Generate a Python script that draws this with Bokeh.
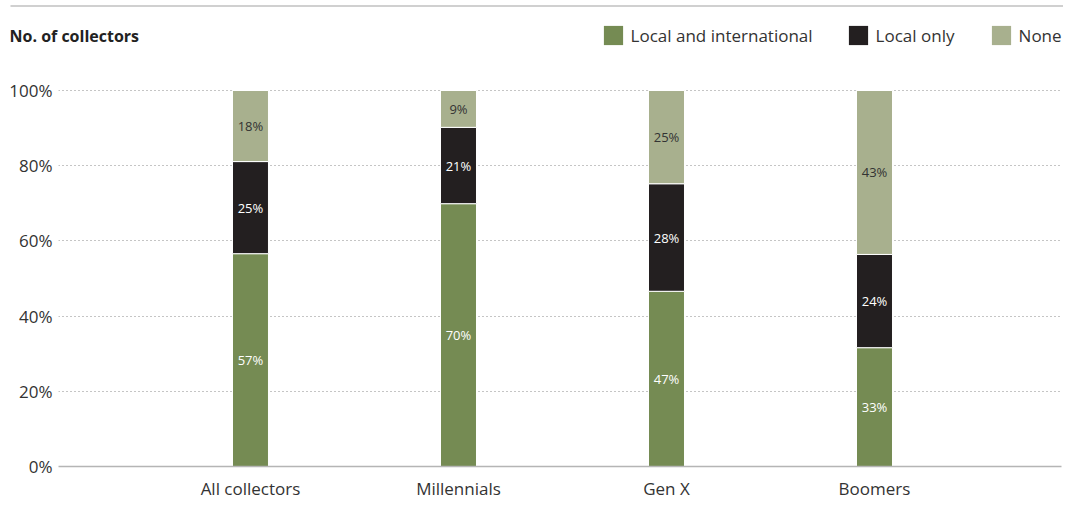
from bokeh.plotting import figure
from bokeh.layouts import column
from bokeh.models import (ColumnDataSource, Range1d, FixedTicker,
                          Legend, LegendItem, Label)
from bokeh.core.properties import value
from bokeh.embed import file_html
from bokeh.resources import INLINE

# ---------------- data ----------------
categories = ["All collectors", "Millennials", "Gen X", "Boomers"]
series = ["Local and international", "Local only", "None"]
local_intl = [56.6, 69.9, 46.6, 31.6]
local_only = [24.5, 20.3, 28.6, 24.8]
none_vals = [18.9, 9.8, 24.8, 43.6]
label_intl = ["57%", "70%", "47%", "33%"]
label_local = ["25%", "21%", "28%", "24%"]
label_none = ["18%", "9%", "25%", "43%"]
y_ticks = [0, 20, 40, 60, 80, 100]
y_tick_labels = ["0%", "20%", "40%", "60%", "80%", "100%"]
title_text = "No. of collectors"

colors = ["#758b53", "#231f20", "#a8b08e"]
label_colors = ["#ffffff", "#ffffff", "#333333"]
FONT = "Open Sans"
W = 1063
HDR_H = 70

# ---------------- header (rule, title, legend) ----------------
hdr = figure(width=W, height=HDR_H, output_backend="svg", toolbar_location=None,
             title=None, x_range=Range1d(0, W), y_range=Range1d(HDR_H, 0),
             x_axis_location=None, y_axis_location=None,
             min_border=0, min_border_left=0, min_border_right=0,
             min_border_top=0, min_border_bottom=0)
hdr.frame_align = False
hdr.grid.visible = False
hdr.outline_line_color = None
hdr.segment(x0=[10], y0=[5.5], x1=[W], y1=[5.5], line_color="#d0d0d0",
            line_width=2)
hdr.add_layout(Label(x=9, y=35.5, text=title_text, text_font=FONT,
                     text_font_size="16px", text_font_style="bold",
                     text_color="#222222", text_baseline="middle",
                     text_align="left"))
legend_x = [600.6, 845.6, 988.6]
for i, name in enumerate(series):
    # zero-size swatch carrier for the legend entry
    swatch = hdr.vbar(x=[0], bottom=[0], top=[0], width=0,
                      fill_color=colors[i], line_color=None)
    lg = Legend(items=[LegendItem(label=name, renderers=[swatch])],
                location=(legend_x[i], HDR_H - 47.4), orientation="horizontal",
                padding=0, margin=0, spacing=0, border_line_color=None,
                background_fill_alpha=0, glyph_width=24, glyph_height=24,
                label_standoff=6, label_height=24,
                label_text_font=FONT, label_text_font_size="17px",
                label_text_color="#333333")
    hdr.add_layout(lg, "center")

# ---------------- main chart ----------------
xs = list(range(len(categories)))
source = ColumnDataSource(dict(x=xs, intl=local_intl,
                               local=local_only, none=none_vals))

p = figure(width=W, height=443, output_backend="svg", toolbar_location=None,
           title=None,
           x_range=Range1d(-0.923, 3.899), y_range=Range1d(0, 102.66),
           min_border_left=58, min_border_right=2,
           min_border_top=10, min_border_bottom=47)
p.frame_align = False
p.outline_line_color = None

renderers = p.vbar_stack(["intl", "local", "none"], x="x", width=0.173,
                         source=source, color=colors,
                         line_color="white", line_width=1)

for i, (vals, labs) in enumerate([(local_intl, label_intl),
                                  (local_only, label_local),
                                  (none_vals, label_none)]):
    base = [0.0] * len(categories)
    if i >= 1:
        base = list(local_intl)
    if i >= 2:
        base = [a + b for a, b in zip(local_intl, local_only)]
    ys = [b + v / 2 for b, v in zip(base, vals)]
    src = ColumnDataSource(dict(x=xs, y=ys, t=labs))
    p.text(x="x", y="y", text="t", source=src, text_align="center",
           text_baseline="middle", text_font=value(FONT),
           text_font_size="13px", text_color=label_colors[i])

p.yaxis.ticker = FixedTicker(ticks=y_ticks)
p.yaxis.major_label_overrides = {t: l for t, l in zip(y_ticks, y_tick_labels)}
p.yaxis.axis_line_color = None
p.yaxis.major_tick_line_color = None
p.yaxis.major_tick_out = 0
p.yaxis.major_tick_in = 0
p.yaxis.minor_tick_line_color = None
p.yaxis.major_label_standoff = 6
p.yaxis.major_label_text_font = FONT
p.yaxis.major_label_text_font_size = "17px"
p.yaxis.major_label_text_color = "#333333"

p.xaxis.ticker = FixedTicker(ticks=xs)
p.xaxis.major_label_overrides = {x: c for x, c in zip(xs, categories)}
p.xaxis.axis_line_color = "#b5b5b5"
p.xaxis.axis_line_width = 1.5
p.xaxis.major_tick_line_color = None
p.xaxis.major_tick_out = 0
p.xaxis.major_tick_in = 0
p.xaxis.minor_tick_line_color = None
p.xaxis.major_label_standoff = 10
p.xaxis.major_label_text_font = FONT
p.xaxis.major_label_text_font_size = "17px"
p.xaxis.major_label_text_color = "#333333"

p.xgrid.grid_line_color = None
p.ygrid.ticker = FixedTicker(ticks=y_ticks[1:])
p.ygrid.grid_line_color = "#8a8a8a"
p.ygrid.grid_line_dash = "1 3"
p.ygrid.grid_line_width = 1

layout = column(hdr, p, spacing=0)
open("out.html", "w").write(file_html(layout, INLINE))
